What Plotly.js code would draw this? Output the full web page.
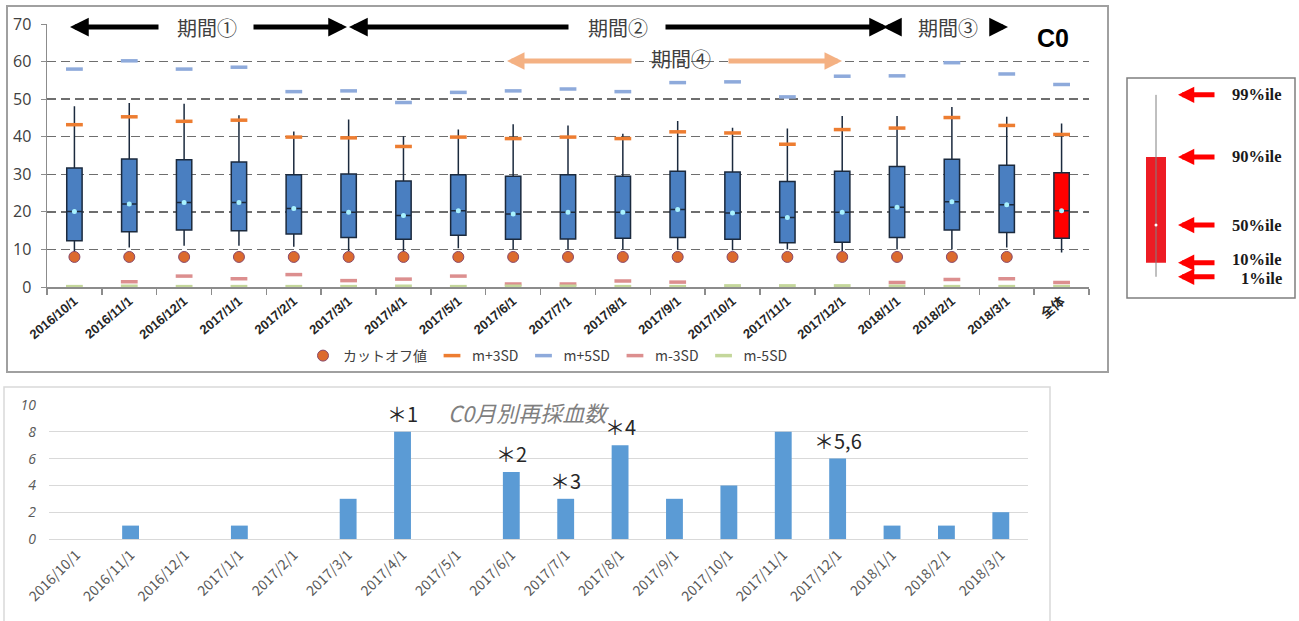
<!DOCTYPE html>
<html><head><meta charset="utf-8">
<script src="https://cdn.plot.ly/plotly-3.0.1.min.js"></script>
<style>html,body{margin:0;padding:0;background:#fff;}#chart{width:1299px;height:621px;}</style>
</head><body><div id="chart"></div>
<script>
// ---- data ----
const months = ["2016/10/1","2016/11/1","2016/12/1","2017/1/1","2017/2/1","2017/3/1","2017/4/1","2017/5/1","2017/6/1","2017/7/1","2017/8/1","2017/9/1","2017/10/1","2017/11/1","2017/12/1","2018/1/1","2018/2/1","2018/3/1"];
const overallLabel = "全体";
const topCategories = months.concat([overallLabel]);

// monthly percentiles (box plot)
const p99 = [48.1,49.0,48.8,45.7,41.4,44.6,40.1,41.9,43.3,43.0,40.8,44.2,42.4,42.2,45.5,45.5,47.9,45.3];
const p90 = [31.7,34.1,33.9,33.3,29.9,30.1,28.2,29.9,29.5,29.9,29.5,30.8,30.6,28.1,30.8,32.1,34.0,32.4];
const p50 = [20.1,22.1,22.5,22.5,20.9,19.9,19.0,20.3,19.4,19.9,19.9,20.6,19.7,18.5,19.9,21.2,22.7,21.9];
const p10 = [12.3,14.7,15.2,15.0,14.1,13.2,12.7,13.8,12.7,12.8,13.0,13.2,12.7,11.8,11.9,13.2,15.2,14.5];
const p1  = [9.2,10.5,11.0,11.0,10.7,9.6,9.4,10.3,10.0,10.0,10.0,10.0,9.8,10.0,9.6,10.0,10.0,10.5];
// overall (全体)
const overallP99 = 43.5, overallP90 = 30.4, overallP50 = 20.3, overallP10 = 13.0, overallP1 = 9.2;

// reference markers (19 values: months + 全体)
const cutoff = [8,8,8,8,8,8,8,8,8,8,8,8,8,8,8,8,8,8,null];
const mPlus3SD  = [43.2,45.3,44.1,44.4,39.9,39.7,37.4,39.9,39.5,39.9,39.5,41.3,41.0,38.0,41.9,42.3,45.1,43.0,40.6];
const mPlus5SD  = [58.0,60.2,58.0,58.5,52.0,52.2,49.1,51.8,52.2,52.7,52.0,54.4,54.6,50.6,56.1,56.2,59.7,56.7,53.9];
const mMinus3SD = [null,1.4,2.9,2.2,3.3,1.7,2.1,2.9,0.8,0.8,1.6,1.3,null,null,null,1.2,2.0,2.2,1.2];
const mMinus5SD = [0.1,0.2,0.1,0.1,0.1,0.1,0.2,0.1,0.2,0.2,0.1,0.1,0.3,0.3,0.3,0.2,0.1,0.1,0.1];

// bottom chart: monthly re-draw counts
const redrawCounts = [0,1,0,1,0,3,8,0,5,3,7,3,4,8,6,1,1,2];
const noteMonths = ["2017/4/1","2017/6/1","2017/7/1","2017/8/1","2017/12/1"];
const noteLabels = ["＊1","＊2","＊3","＊4","＊5,6"];

// illustration box (explanatory legend)
const illusPct = ["1%ile","10%ile","50%ile","90%ile","99%ile"];
const illusVal = [1.2, 8.8, 29, 65.6, 99];

// ---- helpers (pixel -> paper) ----
const W = 1299, H = 621;
const px = x => x / W;
const py = y => 1 - y / H;

const jp = "Noto Sans CJK JP, Noto Sans, sans-serif";

const traces = [];
traces.push({
  type: "box", x: months, q1: p10, median: p50, q3: p90, lowerfence: p1, upperfence: p99,
  fillcolor: "#4a7fc1", line: {color: "#1b2a3e", width: 1.5}, width: 0.28, whiskerwidth: 0,
  boxpoints: false, showlegend: false, hoverinfo: "skip", xaxis: "x", yaxis: "y"
});
traces.push({
  type: "box", x: [overallLabel], q1: [overallP10], median: [overallP50], q3: [overallP90],
  lowerfence: [overallP1], upperfence: [overallP99],
  fillcolor: "#ff0000", line: {color: "#1b2a3e", width: 1.5}, width: 0.28, whiskerwidth: 0,
  boxpoints: false, showlegend: false, hoverinfo: "skip", xaxis: "x", yaxis: "y"
});
traces.push({
  type: "scatter", mode: "markers", x: topCategories, y: p50.concat([overallP50]),
  marker: {size: 5, color: "#a8f2ff"}, showlegend: false, hoverinfo: "skip", cliponaxis: false
});
traces.push({
  type: "scatter", mode: "markers", name: "カットオフ値", x: topCategories, y: cutoff,
  marker: {symbol: "circle", size: 11, color: "#dc6a2e", line: {color: "#8a4a6a", width: 1}},
  cliponaxis: false
});
const sdSeries = [
  ["m+3SD", mPlus3SD, "#ed7d31"],
  ["m+5SD", mPlus5SD, "#8eaadb"],
  ["m-3SD", mMinus3SD, "#dc8f8f"],
  ["m-5SD", mMinus5SD, "#c4d79b"]
];
sdSeries.forEach(([name, vals, col]) => {
  traces.push({
    type: "scatter", mode: "markers", name: name, x: topCategories, y: vals,
    marker: {symbol: "line-ew", size: 12, color: col, line: {color: col, width: 3.5}},
    cliponaxis: false
  });
});
// bottom bar chart
traces.push({
  type: "bar", x: months, y: redrawCounts, xaxis: "x2", yaxis: "y2",
  marker: {color: "#5b9bd5"}, width: 0.31, showlegend: false, hoverinfo: "skip"
});
// illustration
traces.push({
  type: "scatter", mode: "lines", x: [0, 0], y: [illusVal[0], illusVal[4]], xaxis: "x3", yaxis: "y3",
  line: {color: "#808080", width: 1}, showlegend: false, hoverinfo: "skip"
});
traces.push({
  type: "bar", x: [0], base: [illusVal[1]], y: [illusVal[3] - illusVal[1]], xaxis: "x3", yaxis: "y3",
  width: 0.5, marker: {color: "#ed1c24"}, showlegend: false, hoverinfo: "skip"
});
traces.push({
  type: "scatter", mode: "markers", x: [0], y: [illusVal[2]], xaxis: "x3", yaxis: "y3",
  marker: {size: 3, color: "#ffffff"}, showlegend: false, hoverinfo: "skip"
});

const annotations = [];
function arrow(xHead, yHead, dx, color, width, size, yref) {
  annotations.push({
    xref: "paper", yref: yref || "paper", x: px(xHead), y: yHead, ax: dx, ay: 0,
    text: "", showarrow: true, arrowhead: 2, arrowsize: size, arrowwidth: width, arrowcolor: color
  });
}
function label(text, x, y, font, extra) {
  annotations.push(Object.assign({xref: "paper", yref: "paper", x: px(x), y: py(y), text: text,
    xanchor: "center", yanchor: "middle", showarrow: false, font: font}, extra || {}));
}
// period arrows
arrow(70, py(27), 90, "#000", 5, 0.75);
arrow(347, py(27), -95, "#000", 5, 0.75);
arrow(349, py(27), 221, "#000", 5, 0.75);
arrow(888, py(27), -224, "#000", 5, 0.75);
arrow(883, py(27), 14, "#000", 5, 0.75);
arrow(1008, py(27), -14, "#000", 5, 0.75);
arrow(507, py(61), 126, "#f4b183", 5, 0.7);
arrow(842, py(61), -115, "#f4b183", 5, 0.7);
const periodFont = {family: jp, size: 20, color: "#404040"};
label("期間①", 207, 28, periodFont);
label("期間②", 618, 28, periodFont);
label("期間③", 948, 28, periodFont);
label("期間④", 681, 59, periodFont);
label("C0", 1053, 38, {family: "Liberation Sans, Arial, sans-serif", size: 25, color: "#000", weight: "bold"});
// bottom title
label("C0月別再採血数", 528, 412, {family: jp, size: 22, color: "#7f7f7f", style: "italic"});
// notes above bars
noteMonths.forEach((m, i) => {
  annotations.push({xref: "x2", yref: "y2", x: m, y: redrawCounts[months.indexOf(m)], yanchor: "bottom", yshift: 2,
    text: noteLabels[i], showarrow: false, font: {family: jp, size: 20, color: "#262626"}});
});
// illustration arrows and labels
const illusShift = [-2, 3, 0, 0, 0];
illusVal.forEach((v, i) => {
  arrow(1178, v, 38, "#ff0000", 5, 0.65, "y3");
  annotations.push({xref: "paper", yref: "y3", x: px(1284), y: v, xanchor: "right", yanchor: "middle",
    yshift: illusShift[i], text: illusPct[i], showarrow: false,
    font: {family: "Liberation Serif, Times New Roman, serif", size: 16.5, color: "#1a1a1a", weight: "bold"}});
});

const shapes = [
  {type: "rect", xref: "paper", yref: "paper", x0: px(7), x1: px(1108), y0: py(372), y1: py(6), line: {color: "#a0a0a0", width: 2}},
  {type: "rect", xref: "paper", yref: "paper", x0: px(4), x1: px(1050), y0: py(630), y1: py(387), line: {color: "#d9d9d9", width: 1.5}},
  {type: "rect", xref: "paper", yref: "paper", x0: px(1127), x1: px(1295), y0: py(298), y1: py(78), line: {color: "#7f7f7f", width: 1.5}}
];

const layout = {
  width: W, height: H, margin: {l: 0, r: 0, t: 0, b: 0},
  paper_bgcolor: "#ffffff", plot_bgcolor: "rgba(0,0,0,0)",
  boxmode: "overlay", barmode: "overlay",
  font: {family: jp, color: "#404040"},
  xaxis: {
    domain: [px(47), px(1089)], anchor: "y", type: "category",
    categoryorder: "array", categoryarray: topCategories, range: [-0.5, 18.5],
    showline: true, linecolor: "#8c8c8c", linewidth: 1.5,
    ticks: "outside", tickson: "boundaries", ticklen: 6, tickcolor: "#8c8c8c", tickwidth: 1.5,
    tickangle: -40, showgrid: false, zeroline: false,
    tickfont: {family: "Liberation Sans, Noto Sans CJK JP, sans-serif", size: 13, color: "#262626", weight: "bold"}
  },
  yaxis: {
    domain: [py(287), py(24)], anchor: "x", range: [0, 70], dtick: 10,
    showgrid: true, gridcolor: "#6e6e6e", griddash: "9px,5px", gridwidth: 1.5,
    showline: true, linecolor: "#8c8c8c", linewidth: 1.5, zeroline: false,
    ticks: "outside", ticklen: 5, tickcolor: "#8c8c8c", ticklabelstandoff: 6,
    tickfont: {family: "Open Sans, sans-serif", size: 16, color: "#404040"}
  },
  xaxis2: {
    domain: [px(49), px(1028)], anchor: "y2", type: "category",
    categoryorder: "array", categoryarray: months, range: [-0.5, 17.5],
    showline: false, ticks: "", tickangle: -45, showgrid: false, zeroline: false,
    ticklabelstandoff: 4,
    tickfont: {family: jp, size: 14, color: "#595959"}
  },
  yaxis2: {
    domain: [py(539), py(405)], anchor: "x2", range: [0, 10], dtick: 2,
    showgrid: true, gridcolor: "#d9d9d9", gridwidth: 1,
    zeroline: true, zerolinecolor: "#d9d9d9", zerolinewidth: 1, showline: false,
    ticks: "", ticklabelstandoff: 12,
    tickfont: {family: "Open Sans, sans-serif", size: 14, color: "#595959", style: "italic"}
  },
  xaxis3: {domain: [px(1136), px(1176)], anchor: "y3", range: [-0.5, 0.5], visible: false},
  yaxis3: {domain: [py(279), py(93)], anchor: "x3", range: [0, 100], visible: false},
  showlegend: true,
  legend: {
    orientation: "h", x: px(548), xanchor: "center", y: py(356), yanchor: "middle",
    font: {family: jp, size: 14, color: "#404040"}, bgcolor: "rgba(0,0,0,0)", itemwidth: 30,
    traceorder: "normal"
  },
  annotations: annotations,
  shapes: shapes
};

Plotly.newPlot("chart", traces, layout, {displayModeBar: false, staticPlot: true});
</script>
</body></html>
